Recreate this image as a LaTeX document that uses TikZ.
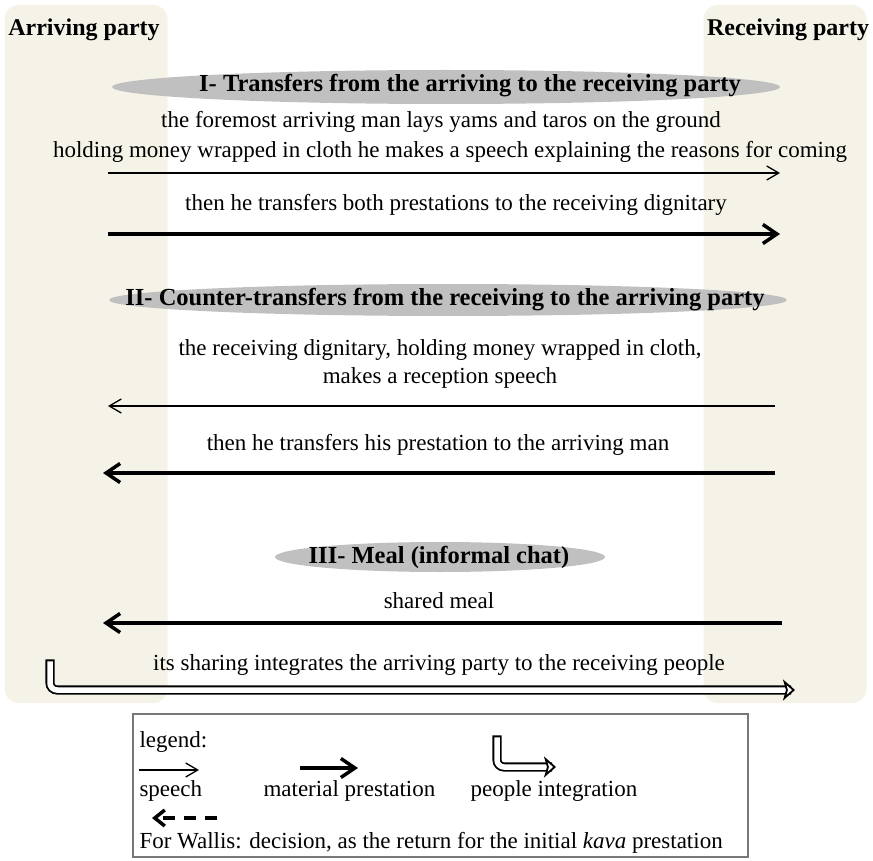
\documentclass[tikz,border=0pt]{standalone}
\usepackage{fontspec}
\setmainfont{Liberation Serif}
\usetikzlibrary{arrows.meta, shapes.geometric, positioning, calc}
\definecolor{panelbg}{RGB}{245,243,232}
\definecolor{phasegray}{RGB}{192,192,192}
\definecolor{legendgray}{RGB}{120,120,120}

\begin{document}
\begin{tikzpicture}[x=1pt, y=-1pt,
    party/.style={font=\fontsize{24}{27}\selectfont\bfseries},
    panel/.style={rounded corners=14pt, fill=panelbg, minimum width=163pt, minimum height=698pt, inner sep=0pt},
    phase/.style={ellipse, fill=phasegray, inner sep=0pt},
    phasetext/.style={font=\fontsize{24.5}{27}\selectfont\bfseries},
    txt/.style={font=\fontsize{23}{26}\selectfont},
    legtxt/.style={font=\fontsize{23}{26}\selectfont, anchor=west},
    speech/.style={-{Straight Barb[length=12pt, width=14pt]}, line width=1.3pt},
    material/.style={-{Straight Barb[length=14pt, width=19pt]}, line width=3.5pt},
    integ/.style={double=white, double distance=5.5pt, line width=1.8pt, rounded corners=7pt, line cap=rect, -{Stealth[open, fill=white, length=12pt, width=21pt, inset=3pt, line width=1.8pt]}},
    decision/.style={-{Straight Barb[length=10pt, width=16pt]}, line width=3.5pt, dash pattern=on 12pt off 9pt}]
\useasboundingbox (0,0) rectangle (873,861);
% parties
\node[panel] (arrpanel) at (86,354) {};
\node[panel] (recpanel) at (785,354) {};
\node[party] (arriving) at (84,30) {Arriving party};
\node[party] (receiving) at (788,30) {Receiving party};
% I- transfers
\node[phase, minimum width=668pt, minimum height=34pt] (ph1) at (446,87) {};
\node[phasetext] (ph1t) at (470,86) {I- Transfers from the arriving to the receiving party};
\node[txt] (t1) at (441,122) {the foremost arriving man lays yams and taros on the ground};
\node[txt] (t2) at (450,152) {holding money wrapped in cloth he makes a speech explaining the reasons for coming};
\coordinate (s1a) at (108,173); \coordinate (s1b) at (780,173);
\draw[speech] (s1a) -- (s1b);
\node[txt] (t3) at (456,205) {then he transfers both prestations to the receiving dignitary};
\coordinate (m1a) at (108,234); \coordinate (m1b) at (780,234);
\draw[material] (m1a) -- (m1b);
% II- counter-transfers
\node[phase, minimum width=678pt, minimum height=32pt] (ph2) at (448,300) {};
\node[phasetext] (ph2t) at (445,300) {II- Counter-transfers from the receiving to the arriving party};
\node[txt] (t4) at (440,350) {the receiving dignitary, holding money wrapped in cloth,};
\node[txt] (t5) at (440,378) {makes a reception speech};
\coordinate (s2a) at (775,406); \coordinate (s2b) at (108,406);
\draw[speech] (s2a) -- (s2b);
\node[txt] (t6) at (438,445) {then he transfers his prestation to the arriving man};
\coordinate (m2a) at (775,473); \coordinate (m2b) at (103,473);
\draw[material] (m2a) -- (m2b);
% III- meal
\node[phase, minimum width=330pt, minimum height=30pt] (ph3) at (440,557) {};
\node[phasetext] (ph3t) at (439,557) {III- Meal (informal chat)};
\node[txt] (t7) at (439,601) {shared meal};
\coordinate (m3a) at (782,623); \coordinate (m3b) at (103,623);
\draw[material] (m3a) -- (m3b);
\node[txt] (t8) at (439,665) {its sharing integrates the arriving party to the receiving people};
\coordinate (i1a) at (50,664); \coordinate (i1b) at (795,690);
\draw[integ] (i1a) |- (i1b);
% legend
\node[draw=legendgray, line width=1.5pt, minimum width=615pt, minimum height=143pt, inner sep=0pt] (legend) at (440.5,785.5) {};
\node[legtxt] (leg) at (136,742) {legend:};
\coordinate (ls1) at (139,770); \coordinate (ls2) at (199,770);
\draw[speech] (ls1) -- (ls2);
\node[legtxt] (legsp) at (136,791) {speech};
\coordinate (lm1) at (300,768); \coordinate (lm2) at (358,768);
\draw[material] (lm1) -- (lm2);
\node[legtxt] (legmat) at (260,791) {material prestation};
\coordinate (li1) at (497,740); \coordinate (li2) at (556,767);
\draw[integ] (li1) |- (li2);
\node[legtxt] (legint) at (467,791) {people integration};
\coordinate (ld1) at (217,818); \coordinate (ld2) at (152,818);
\draw[decision] (ld1) -- (ld2);
\node[legtxt] (legdec) at (136,843) {For Wallis: decision, as the return for the initial \textit{kava} prestation};
\end{tikzpicture}
\end{document}
